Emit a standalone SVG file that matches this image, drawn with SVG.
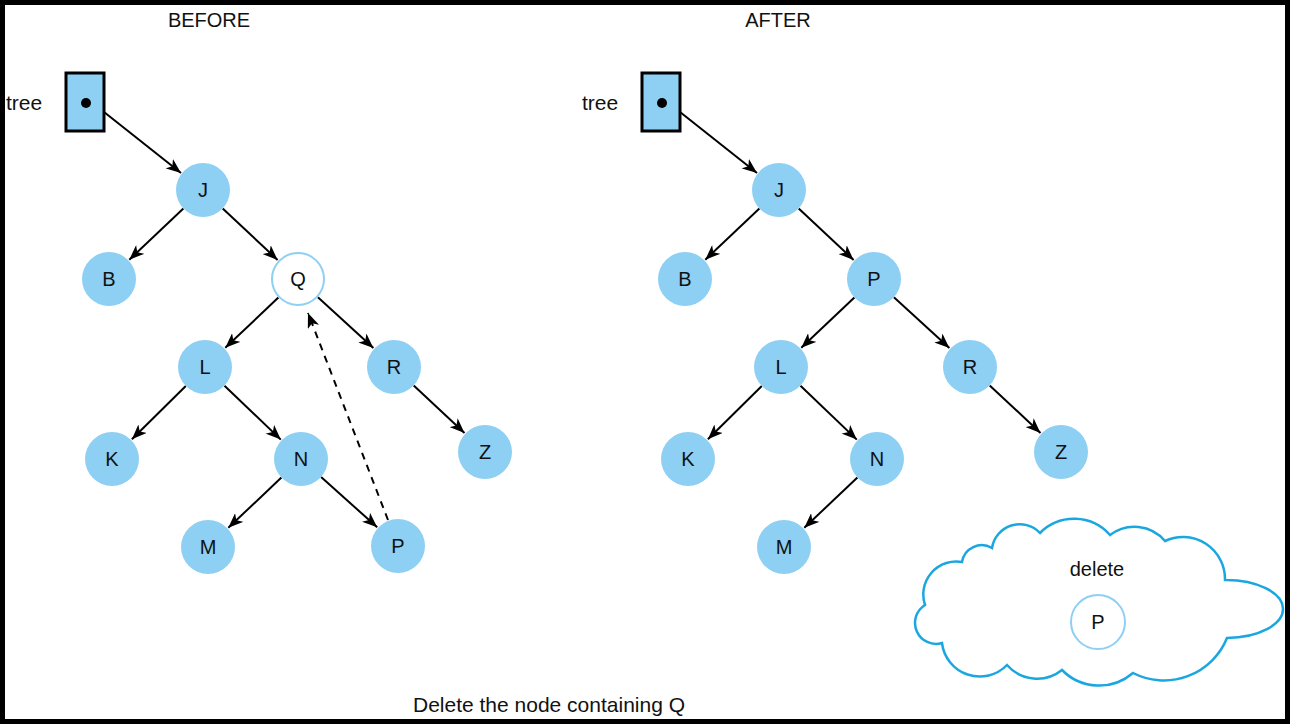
<svg xmlns="http://www.w3.org/2000/svg" width="1290" height="724" viewBox="0 0 1290 724">
<style>
text{font-family:"Liberation Sans","DejaVu Sans",sans-serif;fill:#111;}
.lbl{font-size:20px;text-anchor:middle;}
.nl{font-size:20px;text-anchor:middle;dominant-baseline:central;}
.node{fill:#8ECFF4;}
.hollow{fill:#fff;stroke:#8ECFF4;stroke-width:2;}
.edge{stroke:#000;stroke-width:2;fill:none;marker-end:url(#ah);}
.dash{stroke:#000;stroke-width:2;fill:none;stroke-dasharray:7,6;marker-end:url(#ah);}
.box{fill:#8ECFF4;stroke:#000;stroke-width:3;}
</style>
<defs>
<marker id="ah" markerWidth="16" markerHeight="12" refX="15" refY="6" orient="auto" markerUnits="userSpaceOnUse">
<path d="M0,0 L15,6 L0,12 L4,6 Z" fill="#000"/>
</marker>
</defs>
<rect x="2.5" y="2.5" width="1285" height="719" fill="#fff" stroke="#000" stroke-width="5"/>
<text class="lbl" x="209" y="27">BEFORE</text>
<text class="lbl" x="778" y="27">AFTER</text>
<text class="lbl" x="549" y="712" style="font-size:21px">Delete the node containing Q</text>

<g id="connectors">
<line class="edge" x1="104" y1="112" x2="181" y2="173"/>
<line class="edge" x1="183.4" y1="208.6" x2="129.3" y2="259.7"/>
<line class="edge" x1="222.7" y1="208.5" x2="277.6" y2="259.9"/>
<line class="edge" x1="278.4" y1="297.6" x2="225.3" y2="347.8"/>
<line class="edge" x1="317.9" y1="297.3" x2="373.4" y2="348.1"/>
<line class="edge" x1="185.8" y1="386" x2="131.9" y2="439.3"/>
<line class="edge" x1="224.5" y1="385.7" x2="280.8" y2="439.6"/>
<line class="edge" x1="413.7" y1="385.4" x2="464.5" y2="432.9"/>
<line class="edge" x1="281.4" y1="477.6" x2="228.3" y2="527.8"/>
<line class="edge" x1="321.1" y1="477" x2="377.2" y2="527.3"/>
<line class="dash" x1="388" y1="520" x2="308" y2="313"/>

<line class="edge" x1="680" y1="112" x2="757" y2="173"/>
<line class="edge" x1="759.4" y1="208.6" x2="705.3" y2="259.7"/>
<line class="edge" x1="798.7" y1="208.5" x2="853.6" y2="259.9"/>
<line class="edge" x1="854.4" y1="297.6" x2="801.3" y2="347.8"/>
<line class="edge" x1="893.9" y1="297.3" x2="949.4" y2="348.1"/>
<line class="edge" x1="761.8" y1="386" x2="707.9" y2="439.3"/>
<line class="edge" x1="800.5" y1="385.7" x2="856.8" y2="439.6"/>
<line class="edge" x1="989.7" y1="385.4" x2="1040.5" y2="432.9"/>
<line class="edge" x1="857.4" y1="477.6" x2="804.3" y2="527.8"/>
</g>

<g id="before-tree-ptr">
<text x="6" y="110" style="font-size:21px">tree</text>
<rect class="box" x="66" y="73" width="38" height="58"/>
<circle cx="86" cy="103" r="5" fill="#000"/>
</g>
<g id="b-J"><circle class="node" cx="203" cy="190" r="27"/><text class="nl" x="203" y="190">J</text></g>
<g id="b-B"><circle class="node" cx="109" cy="279" r="27"/><text class="nl" x="109" y="279">B</text></g>
<g id="b-Q"><circle class="hollow" cx="298" cy="279" r="26"/><text class="nl" x="298" y="279">Q</text></g>
<g id="b-L"><circle class="node" cx="205" cy="367" r="27"/><text class="nl" x="205" y="367">L</text></g>
<g id="b-R"><circle class="node" cx="394" cy="367" r="27"/><text class="nl" x="394" y="367">R</text></g>
<g id="b-K"><circle class="node" cx="112" cy="459" r="27"/><text class="nl" x="112" y="459">K</text></g>
<g id="b-N"><circle class="node" cx="301" cy="459" r="27"/><text class="nl" x="301" y="459">N</text></g>
<g id="b-Z"><circle class="node" cx="485" cy="452" r="27"/><text class="nl" x="485" y="452">Z</text></g>
<g id="b-M"><circle class="node" cx="208" cy="547" r="27"/><text class="nl" x="208" y="547">M</text></g>
<g id="b-P"><circle class="node" cx="398" cy="546" r="27"/><text class="nl" x="398" y="546">P</text></g>

<g id="after-tree-ptr">
<text x="582" y="110" style="font-size:21px">tree</text>
<rect class="box" x="642" y="73" width="38" height="58"/>
<circle cx="662" cy="103" r="5" fill="#000"/>
</g>
<g id="a-J"><circle class="node" cx="779" cy="190" r="27"/><text class="nl" x="779" y="190">J</text></g>
<g id="a-B"><circle class="node" cx="685" cy="279" r="27"/><text class="nl" x="685" y="279">B</text></g>
<g id="a-P"><circle class="node" cx="874" cy="279" r="27"/><text class="nl" x="874" y="279">P</text></g>
<g id="a-L"><circle class="node" cx="781" cy="367" r="27"/><text class="nl" x="781" y="367">L</text></g>
<g id="a-R"><circle class="node" cx="970" cy="367" r="27"/><text class="nl" x="970" y="367">R</text></g>
<g id="a-K"><circle class="node" cx="688" cy="459" r="27"/><text class="nl" x="688" y="459">K</text></g>
<g id="a-N"><circle class="node" cx="877" cy="459" r="27"/><text class="nl" x="877" y="459">N</text></g>
<g id="a-Z"><circle class="node" cx="1061" cy="452" r="27"/><text class="nl" x="1061" y="452">Z</text></g>
<g id="a-M"><circle class="node" cx="784" cy="547" r="27"/><text class="nl" x="784" y="547">M</text></g>

<g id="delete-cloud">
<path d="M925,605 A33,33 0 0 1 962,562 A20,20 0 0 1 992,548 A28,28 0 0 1 1040,533 A48,48 0 0 1 1110,535 A40,40 0 0 1 1165,541 A42,42 0 0 1 1225,580 A57,29 0 1 1 1227,638 A68,68 0 0 1 1133,673 A52,52 0 0 1 1062,670 A40,40 0 0 1 1007,665 A38,38 0 0 1 942,643 A21,21 0 0 1 925,605 Z" fill="#fff" stroke="#1AA7E0" stroke-width="2.5"/>
<text class="lbl" x="1097" y="576">delete</text>
<circle class="hollow" cx="1098" cy="622" r="27"/>
<text class="nl" x="1098" y="622">P</text>
</g>
</svg>
